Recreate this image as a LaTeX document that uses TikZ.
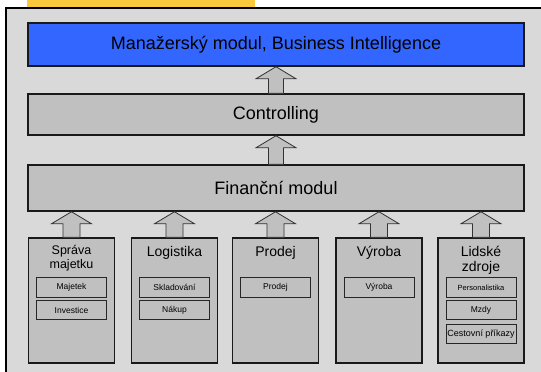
\documentclass[tikz,border=0pt]{standalone}
\usepackage{fontspec}
\setmainfont{Liberation Sans}
\usetikzlibrary{calc}
\definecolor{bgframe}{HTML}{D9D9D9}
\definecolor{boxgray}{HTML}{C0C0C0}
\definecolor{bluebox}{HTML}{3366FF}
\definecolor{yellowbar}{HTML}{F9C83C}
\newcommand\modarrow[3]{%
  \draw[barrow] let \p1=(#1.north), \p2=(#2.south) in
    (\x1-#3pt,\y1) -- (\x1-#3pt,\y2-12pt) -- (\x1-20pt,\y2-12pt) -- (\x1,\y2)
    -- (\x1+20pt,\y2-12pt) -- (\x1+#3pt,\y2-12pt) -- (\x1+#3pt,\y1) -- cycle;}
\begin{document}
\begin{tikzpicture}[x=1pt,y=-1pt,
  layerbox/.style={draw=black!90, line width=1.5pt, fill=boxgray, minimum width=496pt,
    inner sep=0pt, font=\fontsize{18}{21}\selectfont},
  modbox/.style={draw=black!90, line width=1.5pt, fill=boxgray, minimum width=86pt,
    minimum height=125pt, inner sep=0pt},
  modtitle/.style={inner sep=0pt, align=center, font=\fontsize{14}{15}\selectfont},
  subbox/.style={draw=black!85, line width=1pt, fill=boxgray, minimum width=70pt,
    minimum height=19.5pt, inner sep=0pt, font=\fontsize{8.5}{10}\selectfont},
  barrow/.style={draw=black!80, line width=0.8pt, fill=boxgray}]
\useasboundingbox (0,0) rectangle (541,372);
\clip (0,0) rectangle (541,372);
\fill[yellowbar] (27,0) rectangle (255,7.5);
\draw[line width=2pt, fill=bgframe] (6,8) rectangle (570,400);

\node[layerbox, fill=bluebox, minimum height=43pt] (mbi) at (276,44.5) {Manažerský modul, Business Intelligence};
\node[layerbox, minimum height=41pt] (ctrl) at (276,114.5) {Controlling};
\node[layerbox, minimum height=46pt] (fin) at (276,188) {Finanční modul};

\node[modbox] (spr) at (71.5,300.5) {};
\node[modbox] (log) at (174.5,300.5) {};
\node[modbox] (pro) at (275.5,300.5) {};
\node[modbox] (vyr) at (379,300.5) {};
\node[modbox] (lid) at (481,300.5) {};

\node[modtitle, anchor=north, font=\fontsize{12.5}{14}\selectfont] (sprT) at (71.5,245) {Správa\\majetku};
\node[modtitle, anchor=base] (logT) at (174.5,256) {Logistika};
\node[modtitle, anchor=base] (proT) at (275.5,256) {Prodej};
\node[modtitle, anchor=base] (vyrT) at (379,256) {Výroba};
\node[modtitle, anchor=north] (lidT) at (481,246) {Lidské\\zdroje};

\node[subbox] (s1) at (71.5,287.5) {Majetek};
\node[subbox] (s2) at (71.5,310) {Investice};
\node[subbox] (l1) at (174.5,287.5) {Skladování};
\node[subbox] (l2) at (174.5,310) {Nákup};
\node[subbox] (p1) at (275.5,287.5) {Prodej};
\node[subbox] (v1) at (379,287.5) {Výroba};
\node[subbox, font=\fontsize{7.5}{9}\selectfont] (h1) at (481,287.5) {Personalistika};
\node[subbox] (h2) at (481,310) {Mzdy};
\node[subbox, font=\fontsize{9}{10}\selectfont] (h3) at (481,334) {Cestovní příkazy};

\modarrow{ctrl}{mbi}{7.5}
\modarrow{fin}{ctrl}{7.5}
\modarrow{spr}{fin}{8.5}
\modarrow{log}{fin}{8.5}
\modarrow{pro}{fin}{8.5}
\modarrow{vyr}{fin}{8.5}
\modarrow{lid}{fin}{8.5}
\end{tikzpicture}
\end{document}
